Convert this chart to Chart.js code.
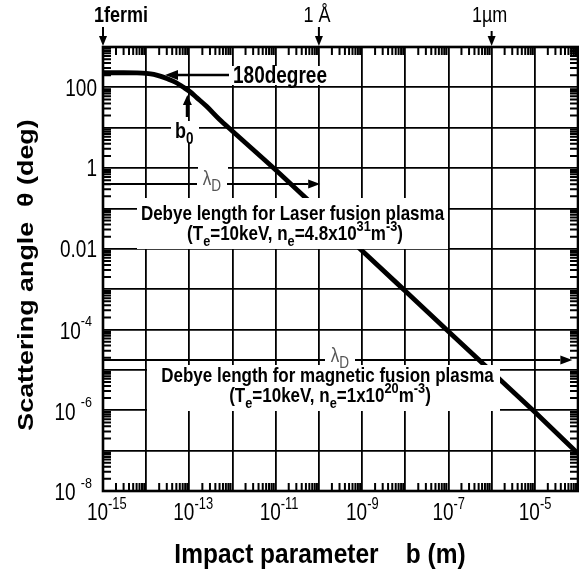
<!DOCTYPE html>
<html><head><meta charset="utf-8">
<script src="https://cdn.jsdelivr.net/npm/chart.js@4.4.1/dist/chart.umd.min.js"></script>
<style>html,body{margin:0;padding:0;background:#fff;}#wrap{width:579px;height:575px;}</style>
</head><body><div id="wrap"><canvas id="c" width="579" height="575"></canvas></div>
<script>
// ---- data ----
const impactParameter = [1e-15, 3e-15, 6e-15, 1e-14, 1.5e-14, 2.1e-14, 3e-14, 5e-14, 7e-14, 1e-13, 1.5e-13, 2.5e-13, 5e-13, 1e-12, 1e-11, 1e-10, 1e-9, 1e-8, 1e-7, 1e-6, 1e-5, 1e-4];
const scatteringAngle = [230, 230, 228, 222, 210, 190, 165, 130, 103, 80, 55, 34, 16, 8.2, 0.9, 0.09, 0.009, 9e-4, 9e-5, 9e-6, 9e-7, 8.5e-8];
const xTickValues = [1e-15, 1e-13, 1e-11, 1e-9, 1e-7, 1e-5];
const xTickLabels = ['10^{-15}', '10^{-13}', '10^{-11}', '10^{-9}', '10^{-7}', '10^{-5}'];
const yTickValues = [100, 1, 0.01, 1e-4, 1e-6, 1e-8];
const yTickLabels = ['100', '1', '0.01', '10^{-4}', '10 ^{-6}', '10 ^{-8}'];
const topMarkerValues = [1e-15, 1e-10, 1e-6];
const topMarkerLabels = ['1fermi', '1 Å', '1µm'];
const debyeLengths = [1.07e-10, 7.4e-5];
const debyeTitles = ['Debye length for Laser fusion plasma', 'Debye length for magnetic fusion plasma'];
const debyeParams = ['(T_{e}=10keV, n_{e}=4.8x10^{31}m^{-3})', '(T_{e}=10keV, n_{e}=1x10^{20}m^{-3})'];
const xTitle = 'Impact parameter    b (m)';
const yTitle = 'Scattering angle  θ (deg)';

const SY = 1.22;
const FONT = '"Liberation Sans", Arial, Helvetica, sans-serif';

function parseRich(s){
  const segs=[]; let i=0, cur='';
  while(i<s.length){
    const c=s[i];
    if((c==='^'||c==='_') && s[i+1]==='{'){
      if(cur){segs.push({t:cur,m:0});cur='';}
      const j=s.indexOf('}',i);
      segs.push({t:s.slice(i+2,j), m: c==='^'?1:-1});
      i=j+1;
    } else {cur+=c;i++;}
  }
  if(cur) segs.push({t:cur,m:0});
  return segs;
}
function drawRich(ctx, s, x, y, size, o){
  o=o||{};
  const weight=o.weight||'normal', align=o.align||'center', color=o.color||'#000';
  const sy=o.sy||SY, rot=o.rot||0, ss=o.supScale||0.7, raise=o.raise||0.42, lower=o.lower||0.25;
  const segs=parseRich(s);
  const fontFor=m=>`${weight} ${m? size*ss: size}px ${FONT}`;
  let w=0; segs.forEach(g=>{ctx.font=fontFor(g.m); g.w=ctx.measureText(g.t).width; w+=g.w;});
  ctx.save(); ctx.translate(x,y); ctx.scale(1,sy); if(rot) ctx.rotate(rot);
  let x0 = align==='center'? -w/2 : align==='right'? -w : 0;
  const base = 0.36*size;
  ctx.fillStyle=color; ctx.textBaseline='alphabetic'; ctx.textAlign='left';
  segs.forEach(g=>{ctx.font=fontFor(g.m); const dy = g.m===1? -raise*size : g.m===-1? lower*size : 0; ctx.fillText(g.t, x0, base+dy); x0+=g.w;});
  ctx.restore();
  return w;
}
function arrow(ctx,x1,y1,x2,y2,lw,hl,hw){
  const a=Math.atan2(y2-y1,x2-x1);
  const bx=x2-hl*Math.cos(a), by=y2-hl*Math.sin(a);
  ctx.save(); ctx.strokeStyle='#000'; ctx.fillStyle='#000'; ctx.lineWidth=lw;
  ctx.beginPath(); ctx.moveTo(x1,y1); ctx.lineTo(bx,by); ctx.stroke();
  ctx.beginPath(); ctx.moveTo(x2,y2);
  ctx.lineTo(bx+hw/2*Math.sin(a), by-hw/2*Math.cos(a));
  ctx.lineTo(bx-hw/2*Math.sin(a), by+hw/2*Math.cos(a));
  ctx.closePath(); ctx.fill(); ctx.restore();
}
function whiteBox(ctx,x1,y1,x2,y2){ctx.save();ctx.fillStyle='#fff';ctx.fillRect(x1,y1,x2-x1,y2-y1);ctx.restore();}

function decades(lo,hi){const a=[];for(let e=lo;e<=hi;e++)a.push({value:Math.pow(10,e),major:true});return a;}

const decor = {
  id:'decor',
  afterDatasetsDraw(chart){
    const ctx=chart.ctx, xs=chart.scales.x, ys=chart.scales.y, ca=chart.chartArea;
    const X=v=>xs.getPixelForValue(v), Y=v=>ys.getPixelForValue(v);
    // white boxes
    whiteBox(ctx, 229, 66, 333, 85);              // 180degree
    whiteBox(ctx, 171, 121, 199, 143);            // b0
    whiteBox(ctx, 198, 164, 228, 192);            // lambda D 1
    whiteBox(ctx, 137, 198, 448, 249);            // laser box
    whiteBox(ctx, 147, 365, 500, 411);            // magnetic box
    whiteBox(ctx, 325, 343, 356, 370);            // lambda D 2
    // 180 degree
    arrow(ctx, 229, 75, 165, 75, 2.6, 13, 10);
    drawRich(ctx, '180degree', 233, 75, 19, {weight:'bold', align:'left'});
    // b0
    arrow(ctx, X(1e-13)-2, 117, X(1e-13)-2, 95, 3.2, 10, 9);
    drawRich(ctx, 'b_{0}', 175, 130, 18, {weight:'bold', align:'left', lower:0.3, supScale:0.75});
    // Debye lengths
    const dY=[184, 360], lblY=[178, 355], lblX=[212, 340];
    debyeLengths.forEach((d,i)=>{
      ctx.save(); ctx.strokeStyle='#000'; ctx.lineWidth=2;
      ctx.beginPath(); ctx.moveTo(ca.left, dY[i]); ctx.lineTo(lblX[i]-15, dY[i]); ctx.stroke(); ctx.restore();
      arrow(ctx, lblX[i]+15, dY[i], X(d), dY[i], 2, 12, 9);
      drawRich(ctx, 'λ_{D}', lblX[i], lblY[i], 17, {color:'#555', lower:0.28, supScale:0.8});
    });
    drawRich(ctx, debyeTitles[0], 292.5, 213, 17, {weight:'bold'});
    drawRich(ctx, debyeParams[0], 295, 233, 17, {weight:'bold', supScale:0.75, raise:0.45});
    drawRich(ctx, debyeTitles[1], 327.5, 375, 17, {weight:'bold'});
    drawRich(ctx, debyeParams[1], 330, 395, 17, {weight:'bold', supScale:0.75, raise:0.45});
    // minor ticks on the four sides
    ctx.save(); ctx.strokeStyle='#000'; ctx.lineWidth=2; ctx.beginPath();
    for(let e=-15;e<-4;e++) for(let k=2;k<=9;k++){const px=X(k*Math.pow(10,e)); ctx.moveTo(px,ca.bottom); ctx.lineTo(px,ca.bottom-8); ctx.moveTo(px,ca.top); ctx.lineTo(px,ca.top+8);}
    for(let e=-8;e<3;e++) for(let k=2;k<=9;k++){const py=Y(k*Math.pow(10,e)); ctx.moveTo(ca.left,py); ctx.lineTo(ca.left+8,py); ctx.moveTo(ca.right,py); ctx.lineTo(ca.right-8,py);}
    ctx.stroke();
    ctx.lineWidth=2.6; ctx.strokeRect(ca.left, ca.top, ca.right-ca.left, ca.bottom-ca.top);
    ctx.restore();
  },
  afterDraw(chart){
    const ctx=chart.ctx, xs=chart.scales.x, ys=chart.scales.y, ca=chart.chartArea;
    const X=v=>xs.getPixelForValue(v), Y=v=>ys.getPixelForValue(v);
    // tick labels
    xTickValues.forEach((v,i)=>{
      ctx.font=`normal 19px ${FONT}`; const w=ctx.measureText('10').width;
      const left=X(v)-5.5-w/2;
      drawRich(ctx, xTickLabels[i], left, 512, 19, {align:'left', supScale:0.68, raise:0.5});
    });
    yTickValues.forEach((v,i)=>{
      const lab=yTickLabels[i];
      if(lab.indexOf('^')<0){ drawRich(ctx, lab, 97, Y(v), 19, {align:'right'}); }
      else { drawRich(ctx, lab, 92, Y(v)+1, 19, {align:'right', supScale:0.66, raise:0.55}); }
    });
    // top markers
    const mk=[{x:94,al:'left',w:'bold'},{x:null,al:'center',w:'normal'},{x:null,al:'center',w:'normal'}];
    topMarkerValues.forEach((v,i)=>{
      const px=X(v);
      const tx = mk[i].x!==null? mk[i].x : px-2;
      drawRich(ctx, topMarkerLabels[i], tx, 14, 18, {weight:mk[i].w, align:mk[i].al});
      arrow(ctx, px, i===2?31:27, px, ca.top-1, 2, 10, 8);
    });
    // axis titles
    drawRich(ctx, xTitle, 320, 553, 24.5, {weight:'bold', sy:1.15});
    drawRich(ctx, yTitle, 25, 275, 22, {weight:'bold', rot:-Math.PI/2});
  }
};

new Chart(document.getElementById('c').getContext('2d'), {
  type:'scatter',
  data:{datasets:[{
    data: impactParameter.map((b,i)=>({x:b, y:scatteringAngle[i]})),
    showLine:true, borderColor:'#000', backgroundColor:'#000', borderWidth:4.8,
    pointRadius:0, cubicInterpolationMode:'monotone', fill:false
  }]},
  options:{
    responsive:false, animation:false, devicePixelRatio:1,
    layout:{padding:{top:47, right:1, left:0, bottom:0}},
    plugins:{legend:{display:false}, tooltip:{enabled:false}},
    scales:{
      x:{type:'logarithmic', min:1e-15, max:1e-4,
         ticks:{display:false}, grid:{color:'#000', lineWidth:1.8, drawTicks:false}, border:{display:false},
         afterBuildTicks:s=>{s.ticks=decades(-15,-4);}, afterFit:s=>{s.height=84;}},
      y:{type:'logarithmic', min:1e-8, max:1e3,
         ticks:{display:false}, grid:{color:'#000', lineWidth:1.8, drawTicks:false}, border:{display:false},
         afterBuildTicks:s=>{s.ticks=decades(-8,3);}, afterFit:s=>{s.width=103;}}
    }
  },
  plugins:[decor]
});
</script></body></html>
